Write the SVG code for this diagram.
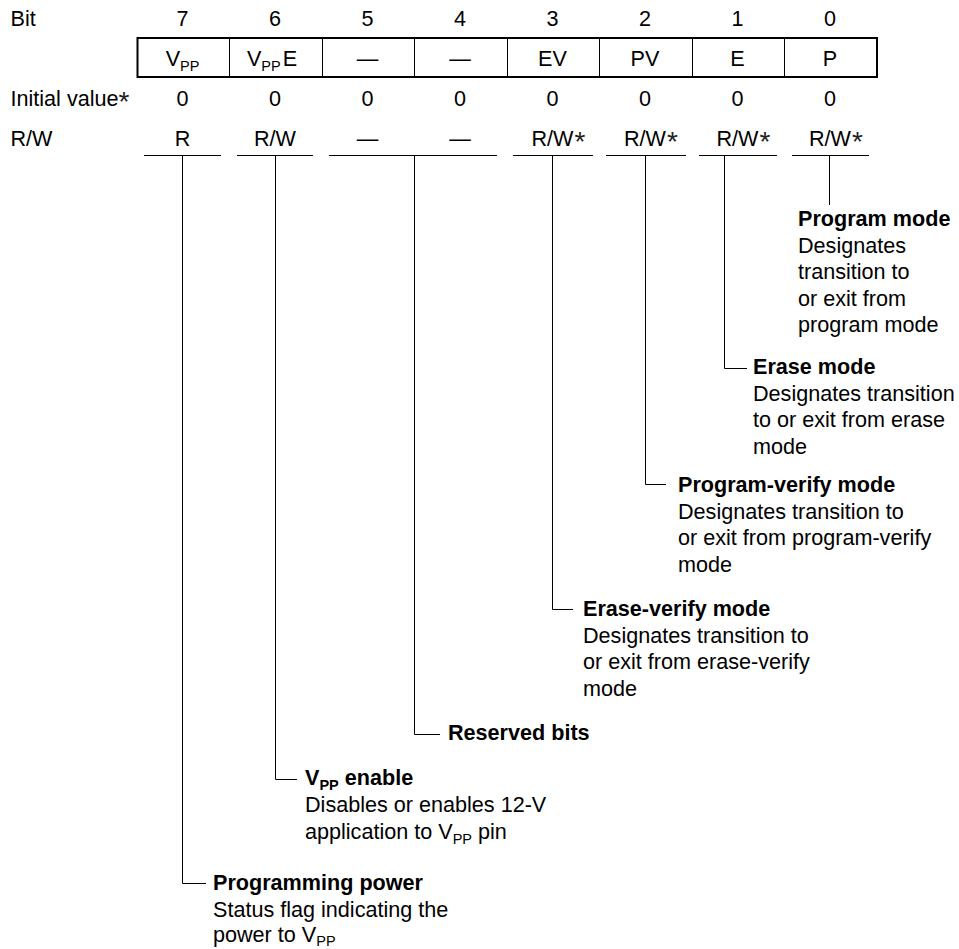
<svg xmlns="http://www.w3.org/2000/svg" width="959" height="949" viewBox="0 0 959 949">
<style>
text{font-family:"Liberation Sans",Arial,Helvetica,sans-serif;font-size:21.6px;fill:#000}
.c{text-anchor:middle}
.b{font-weight:bold}
.sub{font-size:14.5px}
.ast{font-size:28px;fill:#222}
.ln{stroke:#000;stroke-width:1;fill:none}
.box{stroke:#000;stroke-width:2;fill:none}
</style>
<rect x="0" y="0" width="959" height="949" fill="#fff"/>

<g id="bit-numbers">
<text x="10.5" y="25.5">Bit</text>
<text class="c" x="182.5" y="25.5">7</text>
<text class="c" x="275" y="25.5">6</text>
<text class="c" x="367.5" y="25.5">5</text>
<text class="c" x="460" y="25.5">4</text>
<text class="c" x="552.5" y="25.5">3</text>
<text class="c" x="645" y="25.5">2</text>
<text class="c" x="737.5" y="25.5">1</text>
<text class="c" x="830" y="25.5">0</text>
</g>

<g id="register">
<rect class="box" x="137.5" y="38" width="739.5" height="39"/>
<path class="ln" d="M229.5 38V77M322.5 38V77M414.5 38V77M507.5 38V77M599.5 38V77M692.5 38V77M784.5 38V77"/>
<text class="c" x="182.5" y="66">V<tspan class="sub" dy="5">PP</tspan></text>
<text class="c" x="272" y="66">V<tspan class="sub" dy="5">PP</tspan><tspan dx="2" dy="-5">E</tspan></text>
<text class="c" x="367.5" y="66">—</text>
<text class="c" x="460" y="66">—</text>
<text class="c" x="552.5" y="66">EV</text>
<text class="c" x="645" y="66">PV</text>
<text class="c" x="737.5" y="66">E</text>
<text class="c" x="830" y="66">P</text>
</g>

<g id="initial-values">
<text x="10.5" y="106">Initial value<tspan class="ast" dy="5">*</tspan></text>
<text class="c" x="182.5" y="106">0</text>
<text class="c" x="275" y="106">0</text>
<text class="c" x="367.5" y="106">0</text>
<text class="c" x="460" y="106">0</text>
<text class="c" x="552.5" y="106">0</text>
<text class="c" x="645" y="106">0</text>
<text class="c" x="737.5" y="106">0</text>
<text class="c" x="830" y="106">0</text>
</g>

<g id="rw">
<text x="10.5" y="145.5">R/W</text>
<text class="c" x="182.5" y="145.5">R</text>
<text class="c" x="275" y="145.5">R/W</text>
<text class="c" x="367.5" y="145.5">—</text>
<text class="c" x="460" y="145.5">—</text>
<text class="c" x="552.5" y="145.5">R/W</text>
<text class="ast" x="574.5" y="150.5">*</text>
<text class="c" x="645" y="145.5">R/W</text>
<text class="ast" x="667" y="150.5">*</text>
<text class="c" x="737.5" y="145.5">R/W</text>
<text class="ast" x="759.5" y="150.5">*</text>
<text class="c" x="830" y="145.5">R/W</text>
<text class="ast" x="852" y="150.5">*</text>
</g>

<g id="connectors">
<path class="ln" d="M144 155.5H221M237 155.5H313M329 155.5H497M513 155.5H593M606 155.5H686M699 155.5H777M792 155.5H869"/>
<path class="ln" d="M182.5 155.5V883.5H206"/>
<path class="ln" d="M275.5 155.5V779.5H297"/>
<path class="ln" d="M414.5 155.5V734.5H440"/>
<path class="ln" d="M552.5 155.5V609.5H573"/>
<path class="ln" d="M645.5 155.5V484.5H666"/>
<path class="ln" d="M724.5 155.5V368.5H747"/>
<path class="ln" d="M829.5 155.5V205"/>
</g>

<g id="program-mode">
<text class="b" x="798" y="226">Program mode</text>
<text x="798" y="252.5">Designates</text>
<text x="798" y="279">transition to</text>
<text x="798" y="305.5">or exit from</text>
<text x="798" y="332">program mode</text>
</g>

<g id="erase-mode">
<text class="b" x="753" y="374">Erase mode</text>
<text x="753" y="400.5">Designates transition</text>
<text x="753" y="427">to or exit from erase</text>
<text x="753" y="453.5">mode</text>
</g>

<g id="program-verify-mode">
<text class="b" x="678" y="492">Program-verify mode</text>
<text x="678" y="518.5">Designates transition to</text>
<text x="678" y="545">or exit from program-verify</text>
<text x="678" y="571.5">mode</text>
</g>

<g id="erase-verify-mode">
<text class="b" x="583" y="616">Erase-verify mode</text>
<text x="583" y="642.5">Designates transition to</text>
<text x="583" y="669">or exit from erase-verify</text>
<text x="583" y="695.5">mode</text>
</g>

<g id="reserved-bits">
<text class="b" x="448" y="740">Reserved bits</text>
</g>

<g id="vpp-enable">
<text class="b" x="305" y="785">V<tspan class="sub" dy="5">PP</tspan><tspan dy="-5"> enable</tspan></text>
<text x="305" y="812">Disables or enables 12-V</text>
<text x="305" y="838.5">application to V<tspan class="sub" dy="5">PP</tspan><tspan dy="-5"> pin</tspan></text>
</g>

<g id="programming-power">
<text class="b" x="213" y="890">Programming power</text>
<text x="213" y="916.5">Status flag indicating the</text>
<text x="213" y="942">power to V<tspan class="sub" dy="4">PP</tspan></text>
</g>
</svg>
